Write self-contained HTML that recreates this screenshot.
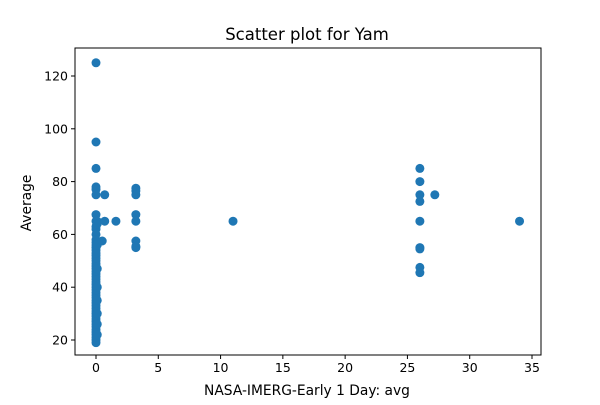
<!DOCTYPE html>
<html><head><meta charset="utf-8"><style>
body{margin:0;background:#fff;font-family:"Liberation Sans","DejaVu Sans",sans-serif;}
svg text{font-family:"DejaVu Sans","Liberation Sans",sans-serif;}
</style></head><body>
<svg id="c" width="600" height="400" xmlns="http://www.w3.org/2000/svg"></svg>
<script>
const xValues=[
0,0,0,0,0,0,0,0,0,0,
0,0,0,0,0,0,0,0,0,0,
0,0,0,0,0,0,0,0,0,0,
0,0,0,0,0,0,0,
0,0,0,0,0,0,0,0,0,0,0,0,0,0,
0.1,0.1,0.1,0.1,0.1,0.1,0.1,0.1,0.1,
0.7,0.7,
1.6,
0.5,
3.2,3.2,3.2,3.2,3.2,3.2,3.2,3.2,
11,
26,26,26,26,26,26,26,26,26,
27.2,
34];
const yValues=[
125,95,85,78,77,75,67.5,65,63,62,
60,58,57,56,55,54,52,50,48,47,
45,43,42,40,38,37,35,33,32,30,
28,27,25,24,22,20,19,
21,23,26,29,31,34,36,39,41,44,46,49,51,53,
65,64,56,47,40,35,30,26,22,
75,65,
65,
57.5,
77.5,76.5,75,67.5,65,57.5,55,55.5,
65,
85,80,75,72.5,65,55,54.5,47.5,45.5,
75,
65];
const xTicks=[0,5,10,15,20,25,30,35];
const yTicks=[20,40,60,80,100,120];
const svg=document.getElementById('c');const NS='http://www.w3.org/2000/svg';
const L=75,R=541,T=48,B=355;
const xs=v=>96+v*12.457, ys=v=>340-(v-20)*2.64;
function mk(t,a,p){const e=document.createElementNS(NS,t);for(const k in a)e.setAttribute(k,a[k]);(p||svg).appendChild(e);return e;}
const pts=mk('g',{});


xValues.forEach((x,i)=>{const c=mk('circle',{cx:xs(x),cy:ys(yValues[i]),r:4.5,fill:'#1f77b4'},pts);

});
const f=mk('rect',{x:L,y:T,width:R-L,height:B-T,fill:'none',stroke:'#000','stroke-width':1});


xTicks.forEach(v=>{const x=xs(v);mk('line',{x1:x,x2:x,y1:B,y2:B+4,stroke:'#000'});
const t=mk('text',{x:x,y:B+17,'text-anchor':'middle','font-size':12.5});t.textContent=v;

});
yTicks.forEach(v=>{const y=ys(v);mk('line',{x1:L-4,x2:L,y1:y,y2:y,stroke:'#000'});
const t=mk('text',{x:L-7,y:y+4.5,'text-anchor':'end','font-size':12.5});t.textContent=v;

});
let t=mk('text',{x:307,y:40,'text-anchor':'middle','font-size':16.5});t.textContent='Scatter plot for Yam';


t=mk('text',{x:307,y:395,'text-anchor':'middle','font-size':13.8});t.textContent='NASA-IMERG-Early 1 Day: avg';


t=mk('text',{x:31,y:203,'text-anchor':'middle','font-size':13.8,transform:'rotate(-90 31 203)'});t.textContent='Average';


</script>
</body></html>
